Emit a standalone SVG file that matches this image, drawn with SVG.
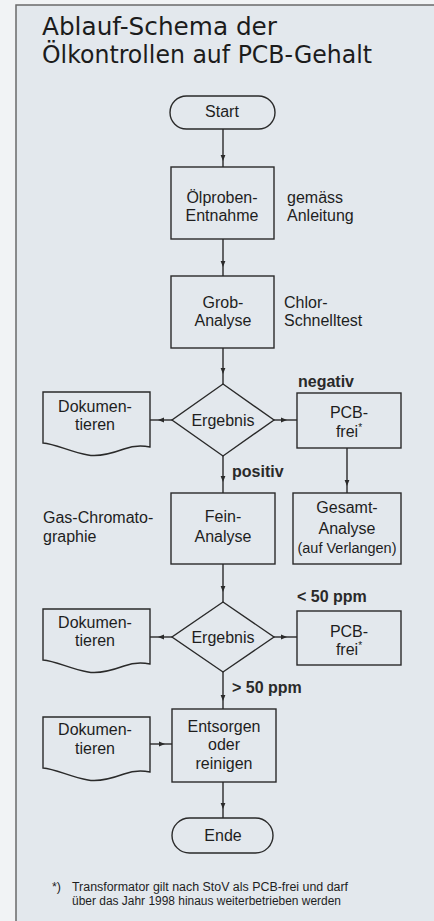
<svg xmlns="http://www.w3.org/2000/svg" width="434" height="921" viewBox="0 0 434 921">
<defs>
<marker id="ah" viewBox="0 0 10 10" refX="5" refY="5" markerWidth="6" markerHeight="6" markerUnits="userSpaceOnUse" orient="auto">
<path d="M0,1 L10,5 L0,9 Z" fill="#2a2a2a"/>
</marker>
<style>
.shape{fill:none;stroke:#2a2a2a;stroke-width:1.4}
.conn{fill:none;stroke:#2a2a2a;stroke-width:1.4;marker-mid:url(#ah)}
text{font-family:"Liberation Sans",Arial,sans-serif;fill:#1e1e1e;font-size:16px}
.c{text-anchor:middle}
.lbl{font-weight:bold;fill:#2a2a2a}
.title{font-family:"DejaVu Sans","Liberation Sans",sans-serif;font-size:24px;fill:#1c1c1c}
.fn{font-size:12.5px}
.small{font-size:14px}
.sup{font-size:10px}
</style>
</defs>
<rect x="0" y="0" width="434" height="921" fill="#f1f3f5"/>
<rect x="16" y="5" width="430" height="930" fill="#e3e8ed" stroke="#6a6a6a" stroke-width="1.5"/>

<g id="title">
<text class="title" x="42" y="35" textLength="235" lengthAdjust="spacingAndGlyphs">Ablauf-Schema der</text>
<text class="title" x="42" y="63" textLength="330" lengthAdjust="spacingAndGlyphs">Ölkontrollen auf PCB-Gehalt</text>
</g>

<g id="connectors">
<path class="conn" d="M223,129 L223,158 L223,167"/>
<path class="conn" d="M223,239 L223,264 L223,276"/>
<path class="conn" d="M223,348 L223,371 L223,384"/>
<path class="conn" d="M172,420 L161,420 L150,420"/>
<path class="conn" d="M274,420 L284,420 L297,420"/>
<path class="conn" d="M223,456 L223,479 L223,493"/>
<path class="conn" d="M347,448 L347,483 L347,493"/>
<path class="conn" d="M223,564 L223,589 L223,602"/>
<path class="conn" d="M172,637 L161,637 L150,637"/>
<path class="conn" d="M274,637 L284,637 L297,637"/>
<path class="conn" d="M223,672 L223,698 L223,709"/>
<path class="conn" d="M150,744 L162,744 L172,744"/>
<path class="conn" d="M223,782 L223,806 L223,818"/>
</g>

<g id="start">
<rect class="shape" x="170" y="96" width="105" height="33" rx="16.5"/>
<text class="c" x="222" y="117">Start</text>
</g>

<g id="probe">
<rect class="shape" x="171" y="167" width="103" height="72"/>
<text class="c" x="222" y="203">Ölproben-</text>
<text class="c" x="222" y="221">Entnahme</text>
</g>
<g id="probe-note">
<text x="287" y="203">gemäss</text>
<text x="287" y="221">Anleitung</text>
</g>

<g id="grob">
<rect class="shape" x="171" y="276" width="103" height="72"/>
<text class="c" x="223" y="308">Grob-</text>
<text class="c" x="223" y="326">Analyse</text>
</g>
<g id="grob-note">
<text x="284" y="308">Chlor-</text>
<text x="284" y="326">Schnelltest</text>
</g>

<g id="ergebnis1">
<path class="shape" d="M223,384 L274,420 L223,456 L172,420 Z"/>
<text class="c" x="223" y="426">Ergebnis</text>
</g>

<g id="doku1">
<path class="shape" d="M43,443 L43,392 L150,392 L150,447 C140,445 132,446 124,449 C110,454 98,457 88,455 C70,452 56,444 43,443 Z"/>
<text class="c" x="95" y="412">Dokumen-</text>
<text class="c" x="95" y="430">tieren</text>
</g>

<g id="lbl-negativ"><text class="lbl" x="298" y="387">negativ</text></g>
<g id="lbl-positiv"><text class="lbl" x="232" y="477">positiv</text></g>

<g id="pcbfrei1">
<rect class="shape" x="297" y="393" width="104" height="55"/>
<text class="c" x="349" y="418">PCB-</text>
<text class="c" x="349" y="437">frei<tspan class="sup" dy="-6">*</tspan></text>
</g>

<g id="fein">
<rect class="shape" x="171" y="493" width="104" height="71"/>
<text class="c" x="223" y="522">Fein-</text>
<text class="c" x="223" y="542">Analyse</text>
</g>
<g id="fein-note">
<text x="43" y="523">Gas-Chromato-</text>
<text x="43" y="542">graphie</text>
</g>

<g id="gesamt">
<rect class="shape" x="293" y="493" width="108" height="71"/>
<text class="c" x="347" y="513">Gesamt-</text>
<text class="c" x="347" y="534">Analyse</text>
<text class="c small" x="347" y="553" textLength="99" lengthAdjust="spacingAndGlyphs">(auf Verlangen)</text>
</g>

<g id="lbl-lt50"><text class="lbl" x="297" y="602">&lt; 50 ppm</text></g>

<g id="ergebnis2">
<path class="shape" d="M223,602 L274,637 L223,672 L172,637 Z"/>
<text class="c" x="223" y="643">Ergebnis</text>
</g>

<g id="doku2">
<path class="shape" d="M43,660 L43,609 L150,609 L150,664 C140,662 132,663 124,666 C110,671 98,674 88,672 C70,669 56,661 43,660 Z"/>
<text class="c" x="95" y="628">Dokumen-</text>
<text class="c" x="95" y="646">tieren</text>
</g>

<g id="pcbfrei2">
<rect class="shape" x="297" y="611" width="104" height="54"/>
<text class="c" x="349" y="637">PCB-</text>
<text class="c" x="349" y="655">frei<tspan class="sup" dy="-6">*</tspan></text>
</g>

<g id="lbl-gt50"><text class="lbl" x="232" y="693">&gt; 50 ppm</text></g>

<g id="entsorgen">
<rect class="shape" x="172" y="709" width="104" height="73"/>
<text class="c" x="224" y="732">Entsorgen</text>
<text class="c" x="224" y="750">oder</text>
<text class="c" x="224" y="769">reinigen</text>
</g>

<g id="doku3">
<path class="shape" d="M43,768 L43,717 L150,717 L150,772 C140,770 132,771 124,774 C110,779 98,782 88,780 C70,777 56,769 43,768 Z"/>
<text class="c" x="95" y="735">Dokumen-</text>
<text class="c" x="95" y="754">tieren</text>
</g>

<g id="ende">
<rect class="shape" x="172" y="818" width="101" height="35" rx="17.5"/>
<text class="c" x="223" y="841">Ende</text>
</g>

<g id="footnote">
<text class="fn" x="52" y="891">*)</text>
<text class="fn" x="72" y="891" textLength="276" lengthAdjust="spacingAndGlyphs">Transformator gilt nach StoV als PCB-frei und darf</text>
<text class="fn" x="72" y="905" textLength="269" lengthAdjust="spacingAndGlyphs">über das Jahr 1998 hinaus weiterbetrieben werden</text>
</g>
</svg>
